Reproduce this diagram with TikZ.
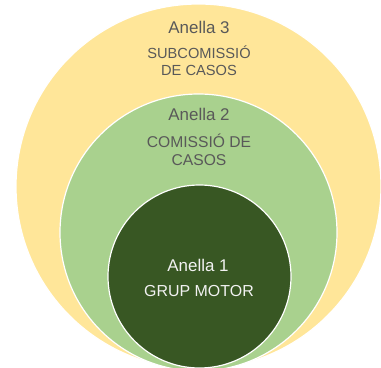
\documentclass[tikz,border=0pt]{standalone}
\usepackage{fontspec}
\setmainfont{Liberation Sans}
\usepackage{tikz}
\definecolor{ringyellow}{HTML}{FFE699}
\definecolor{ringgreen}{HTML}{A9D18E}
\definecolor{ringdark}{HTML}{385723}
\definecolor{labelgray}{HTML}{595959}
\tikzset{
  ring/.style={circle, draw=white, line width=1.2pt, inner sep=0pt},
  ringtitle/.style={anchor=base, text=labelgray, font=\fontsize{17}{20}\selectfont},
  ringlabel/.style={anchor=base, text=labelgray},
}

\begin{document}
\begin{tikzpicture}[x=1bp, y=-1bp]
    \useasboundingbox (0,0) rectangle (381,368);
    \clip (0,0) rectangle (381,368);
    \node[ring, fill=ringyellow, minimum size=365bp] (R3) at (198.5,186.5){};
    \node[ring, fill=ringgreen, minimum size=277bp] (R2) at (198.5,232.5){};
    \node[ring, fill=ringdark, minimum size=183bp] (R1) at (199.5,276.5){};
    \node[ringtitle] (T3) at (199,33.5){Anella 3};
    \node[ringlabel, font=\fontsize{14.7}{17}\selectfont] (L3a) at (199,58.3){SUBCOMISSIÓ};
    \node[ringlabel, font=\fontsize{14.7}{17}\selectfont] (L3b) at (199,75){DE CASOS};
    \node[ringtitle] (T2) at (199,120.7){Anella 2};
    \node[ringlabel, font=\fontsize{15.7}{19}\selectfont] (L2a) at (199,147){COMISSIÓ DE};
    \node[ringlabel, font=\fontsize{15.7}{19}\selectfont] (L2b) at (199,165.7){CASOS};
    \node[ringtitle, text=white!95!black] (T1) at (198,271){Anella 1};
    \node[ringlabel, text=white!95!black, font=\fontsize{16}{19}\selectfont] (L1) at (199,296.7){GRUP MOTOR};
  \end{tikzpicture}
\end{document}
